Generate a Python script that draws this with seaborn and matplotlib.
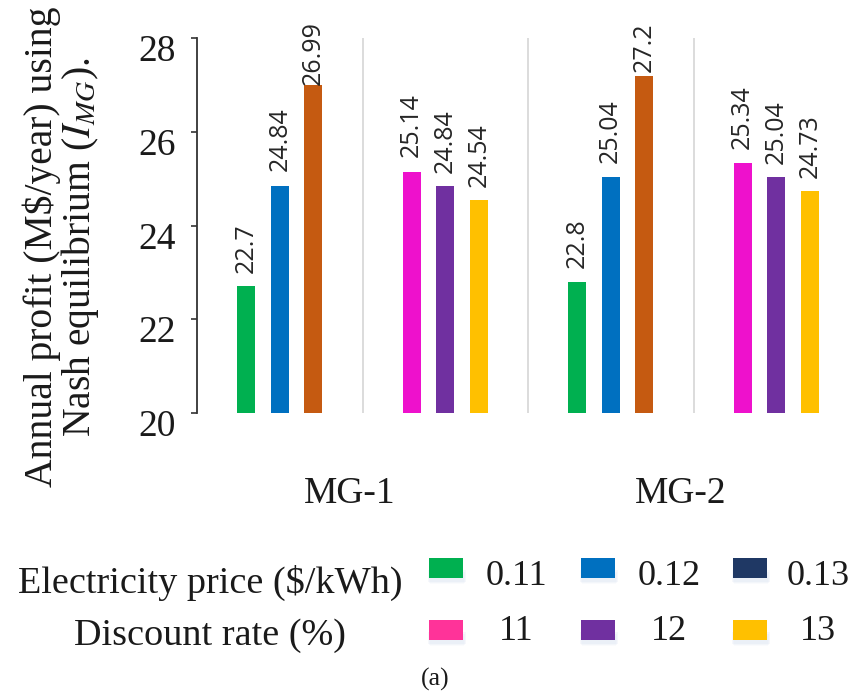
import matplotlib
matplotlib.use("Agg")
import matplotlib.pyplot as plt
import numpy as np
import pandas as pd
import seaborn as sns
from matplotlib.patches import Rectangle
from matplotlib.transforms import ScaledTranslation, blended_transform_factory

# ---- data -------------------------------------------------------------
microgrids = ["MG-1", "MG-2"]
price_levels = ["0.11", "0.12", "0.13"]        # electricity price ($/kWh)
discount_levels = ["11", "12", "13"]           # discount rate (%)

mg1_price = [22.7, 24.84, 26.99]
mg2_price = [22.8, 25.04, 27.2]
mg1_discount = [25.14, 24.84, 24.54]
mg2_discount = [25.34, 25.04, 24.73]

y_ticks = [20, 22, 24, 26, 28]

# ---- styling ------------------------------------------------------------
price_bar_colors = ["#00B050", "#0070C0", "#C55A11"]
discount_bar_colors = ["#EE11CC", "#7030A0", "#FFC000"]
price_key_colors = ["#00B050", "#0070C0", "#1F3864"]
discount_key_colors = ["#FF3399", "#7030A0", "#FFC000"]

# label offsets above each bar (pixels), same layout as the value lists
pad_mg1_price = [13, 15, 0]
pad_mg2_price = [14, 14, 3]
pad_mg1_discount = [15, 13, 13]
pad_mg2_discount = [14, 13, 13]

sns.set_theme(style="white")
plt.rcParams["font.family"] = ["Liberation Serif", "DejaVu Serif"]
plt.rcParams["mathtext.fontset"] = "stix"
plt.rcParams["text.color"] = "#1a1a1a"

# slots along x: price block and discount block for each microgrid
slots = []
for mg in microgrids:
    slots += [f"{mg} price", f"{mg} discount"]

df_price = pd.DataFrame({
    "slot": [f"{microgrids[0]} price"] * 3 + [f"{microgrids[1]} price"] * 3,
    "level": price_levels * 2,
    "profit": mg1_price + mg2_price,
})
df_discount = pd.DataFrame({
    "slot": [f"{microgrids[0]} discount"] * 3 + [f"{microgrids[1]} discount"] * 3,
    "level": discount_levels * 2,
    "profit": mg1_discount + mg2_discount,
})

W, H = 857, 695
fig = plt.figure(figsize=(W / 100, H / 100), dpi=100)
ax = fig.add_axes([197 / W, 282 / H, 662 / W, 375 / H])

bar_kw = dict(x="slot", y="profit", order=slots, width=0.6075, gap=0.46,
              saturation=1, linewidth=0, errorbar=None, legend=False, ax=ax)
sns.barplot(data=df_price, hue="level", hue_order=price_levels,
            palette=price_bar_colors, **bar_kw)
sns.barplot(data=df_discount, hue="level", hue_order=discount_levels,
            palette=discount_bar_colors, **bar_kw)

# value labels on top of every bar
pads = {}
for mg, pp, pd_ in [(microgrids[0], pad_mg1_price, pad_mg1_discount),
                    (microgrids[1], pad_mg2_price, pad_mg2_discount)]:
    for lv, p in zip(price_levels, pp):
        pads[(f"{mg} price", lv)] = p
    for lv, p in zip(discount_levels, pd_):
        pads[(f"{mg} discount", lv)] = p

for df, levels in [(df_price, price_levels), (df_discount, discount_levels)]:
    for _, row in df.iterrows():
        xi = slots.index(row["slot"])
        k = levels.index(row["level"])
        xc = xi + (k - 1) * 0.6075 / 3
        ax.annotate(f"{row['profit']:g}", (xc, row["profit"]),
                    xytext=(0, pads[(row["slot"], row["level"])] * 0.72),
                    textcoords="offset points", rotation=90,
                    ha="center", va="bottom", fontsize=18,
                    family="Open Sans", color="#262626",
                    annotation_clip=False)

# separators between blocks
for xs in [0.5, 1.5, 2.5]:
    ax.axvline(xs, color="#D9D9D9", lw=1.3, zorder=0)

ax.set_xlim(-0.5, 3.5)
ax.set_ylim(20, 28)
ax.set_yticks(y_ticks)
ax.set_yticklabels([str(t) for t in y_ticks], fontsize=27)
ax.tick_params(axis="y", left=True, length=4.3, width=1.2, color="#333333",
               direction="out", pad=11, labelcolor="#1a1a1a")
ax.set_xticks([])
ax.set_xlabel("")
ax.set_ylabel("")
for s in ["top", "right", "bottom"]:
    ax.spines[s].set_visible(False)
ax.spines["left"].set_color("#333333")
ax.spines["left"].set_linewidth(1.3)

shift = ScaledTranslation(0, -10 / 100, fig.dpi_scale_trans)
for tick in ax.yaxis.get_major_ticks():
    tick.label1.set_transform(tick.label1.get_transform() + shift)

# microgrid names under each pair of blocks
trans = blended_transform_factory(ax.transData, ax.transAxes)
for i, mg in enumerate(microgrids):
    ax.text(2 * i + 0.5 - 0.075, -0.24, mg, transform=trans, ha="center",
            va="baseline", fontsize=27)

# y-axis title
fig.text(62 / W, 1 - 247 / H,
         "Annual profit (M$/year) using\nNash equilibrium ($I_{MG}$).",
         rotation=90, ha="center", va="center", multialignment="center",
         fontsize=28.5, linespacing=0.95)

# key
def fx(px):
    return px / W

def fy(py):
    return 1 - py / H

swatch_x = [429, 581, 733]
label_cx = [516, 669, 818]
rows = [
    ("Electricity price ($/kWh)", price_levels, price_key_colors, 558, 585, 593),
    ("Discount rate (%)", discount_levels, discount_key_colors, 620, 640, 645),
]
for title, levels, colors, top, base, title_base in rows:
    fig.text(fx(210), fy(title_base), title, ha="center", va="baseline",
             fontsize=27.5)
    for sx, cx, lv, c in zip(swatch_x, label_cx, levels, colors):
        for k, a in enumerate([0.05, 0.07, 0.09]):
            fig.patches.append(Rectangle((fx(sx + 1 - k), fy(top + 26 - k)),
                                         (34 + 2 * k) / W, (10 + k) / H,
                                         transform=fig.transFigure,
                                         facecolor="#9fb6dc", alpha=a,
                                         edgecolor="none"))
        fig.patches.append(Rectangle((fx(sx), fy(top + 20)), 34 / W, 20 / H,
                                     transform=fig.transFigure,
                                     facecolor=c, edgecolor="none"))
        fig.text(fx(cx), fy(base), lv, ha="center", va="baseline",
                 fontsize=26)

fig.text(fx(435), fy(686), "(a)", ha="center", va="baseline", fontsize=18.5)

fig.savefig("out.png", dpi=100)
